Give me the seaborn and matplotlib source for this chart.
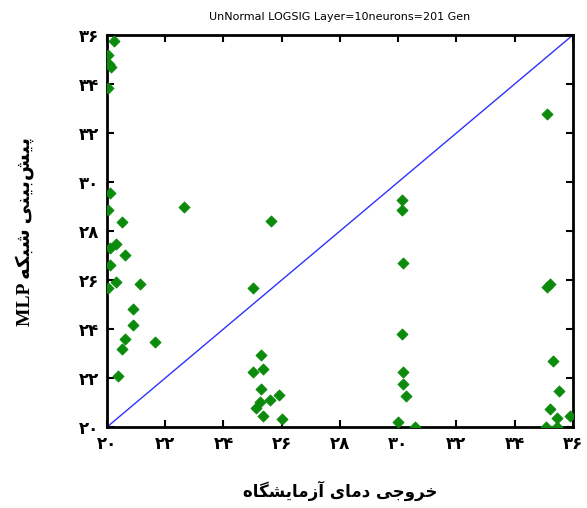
import matplotlib
matplotlib.use("Agg")
import matplotlib.pyplot as plt
import seaborn as sns
import pandas as pd

# ---------------- data ----------------
target = [20.24, 20.04, 20.07, 20.14, 20.04, 20.10, 20.02, 20.53, 20.30, 20.10,
          20.62, 20.10, 20.30, 20.02, 21.12, 20.88, 20.88, 20.62, 20.53, 21.65,
          20.38, 22.65,
          25.64, 25.03, 25.28, 25.03, 25.37, 25.28, 25.89, 25.60, 25.26, 25.12,
          25.35, 26.02,
          30.12, 30.12, 30.18, 30.12, 30.18, 30.18, 30.27, 30.01, 30.56,
          35.11, 35.22, 35.11, 35.31, 35.51, 35.22, 35.47, 35.91, 35.09, 35.47]
predicted = [35.76, 35.17, 34.83, 34.69, 33.84, 29.55, 28.86, 28.36, 27.45, 27.31,
             27.04, 26.60, 25.92, 25.66, 25.84, 24.81, 24.16, 23.60, 23.17, 23.49,
             22.10, 28.97,
             28.42, 25.67, 22.93, 22.25, 22.37, 21.56, 21.32, 21.10, 21.04, 20.77,
             20.43, 20.33,
             29.27, 28.86, 26.71, 23.79, 22.25, 21.77, 21.25, 20.19, 20.01,
             32.77, 25.84, 25.71, 22.69, 21.49, 20.73, 20.36, 20.47, 20.01, 19.99]
ideal_x = [20, 36]
ideal_y = [20, 36]
tick_values = [20, 22, 24, 26, 28, 30, 32, 34, 36]
tick_labels = ["۲۰", "۲۲", "۲۴", "۲۶", "۲۸", "۳۰", "۳۲", "۳۴", "۳۶"]
title_text = "UnNormal LOGSIG Layer=10neurons=201 Gen"
xlabel_text = "خروجی دمای آزمایشگاه"
ylabel_text = "پیش‌بینی شبکه MLP"

# ---------------- minimal Persian shaping (matplotlib has no bidi/shaping) ----
FORMS = {  # isolated, final, initial, medial
    "ا": ("\uFE8D", "\uFE8E", None, None),
    "آ": ("\uFE81", "\uFE82", None, None),
    "ب": ("\uFE8F", "\uFE90", "\uFE91", "\uFE92"),
    "پ": ("\uFB56", "\uFB57", "\uFB58", "\uFB59"),
    "ج": ("\uFE9D", "\uFE9E", "\uFE9F", "\uFEA0"),
    "خ": ("\uFEA5", "\uFEA6", "\uFEA7", "\uFEA8"),
    "د": ("\uFEA9", "\uFEAA", None, None),
    "ر": ("\uFEAD", "\uFEAE", None, None),
    "ز": ("\uFEAF", "\uFEB0", None, None),
    "ش": ("\uFEB5", "\uFEB6", "\uFEB7", "\uFEB8"),
    "ک": ("\uFB8E", "\uFB8F", "\uFB90", "\uFB91"),
    "گ": ("\uFB92", "\uFB93", "\uFB94", "\uFB95"),
    "م": ("\uFEE1", "\uFEE2", "\uFEE3", "\uFEE4"),
    "ن": ("\uFEE5", "\uFEE6", "\uFEE7", "\uFEE8"),
    "ه": ("\uFEE9", "\uFEEA", "\uFEEB", "\uFEEC"),
    "و": ("\uFEED", "\uFEEE", None, None),
    "ی": ("\uFBFC", "\uFBFD", "\uFBFE", "\uFBFF"),
}


def _dual(c):
    return c in FORMS and FORMS[c][2] is not None


def shape_word(w):
    out = []
    for i, c in enumerate(w):
        if c not in FORMS:
            if c != "\u200c":
                out.append(c)
            continue
        prev = w[i - 1] if i > 0 else ""
        nxt = w[i + 1] if i + 1 < len(w) else ""
        jp = _dual(prev)
        jn = _dual(c) and nxt in FORMS
        iso, fin, ini, med = FORMS[c]
        if jp and jn:
            out.append(med)
        elif jp:
            out.append(fin)
        elif jn:
            out.append(ini)
        else:
            out.append(iso)
    return "".join(out)


def rtl(text):
    toks = text.split(" ")
    vis = []
    for t in toks:
        if any(ch in FORMS for ch in t):
            vis.append(shape_word(t)[::-1])
        else:
            vis.append(t)
    return " ".join(vis[::-1])


# ---------------- plot ----------------
sns.set_theme(style="white")
plt.rcParams["font.family"] = ["DejaVu Sans"]
plt.rcParams["text.color"] = "black"
plt.rcParams["axes.labelcolor"] = "black"
plt.rcParams["xtick.color"] = "black"
plt.rcParams["ytick.color"] = "black"

fig = plt.figure(figsize=(5.87, 5.08), dpi=100)
ax = fig.add_axes([0.1823, 0.1594, 0.7937, 0.7717])

df = pd.DataFrame({"target": target, "predicted": predicted})
line_df = pd.DataFrame({"x": ideal_x, "y": ideal_y})

sns.lineplot(data=line_df, x="x", y="y", ax=ax, color="#3030ff", lw=1.0)
sns.scatterplot(data=df, x="target", y="predicted", ax=ax, marker="D",
                color="#0b8a0b", edgecolor="#0b8a0b", linewidth=0.6, s=32,
                zorder=3)

ax.set_xlim(20, 36)
ax.set_ylim(20, 36)
ax.set_xticks(tick_values)
ax.set_yticks(tick_values)
ax.set_xticklabels(tick_labels, fontsize=12, fontweight="bold", color="black")
ax.set_yticklabels(tick_labels, fontsize=12, fontweight="bold", color="black")
ax.tick_params(direction="in", length=5, width=1.5, top=True, right=True,
               bottom=True, left=True, colors="black", pad=6)
for sp in ax.spines.values():
    sp.set_visible(True)
    sp.set_color("black")
    sp.set_linewidth(2)

ax.set_title(title_text, fontsize=8, pad=11, color="black")
ax.set_xlabel(rtl(xlabel_text), fontsize=12, fontweight="bold", labelpad=20,
              color="black")
ax.set_ylabel(rtl(ylabel_text), fontsize=14, fontweight="bold", labelpad=32,
              color="black", family=["Liberation Serif", "DejaVu Sans"])

fig.savefig("out.png", dpi=100)
